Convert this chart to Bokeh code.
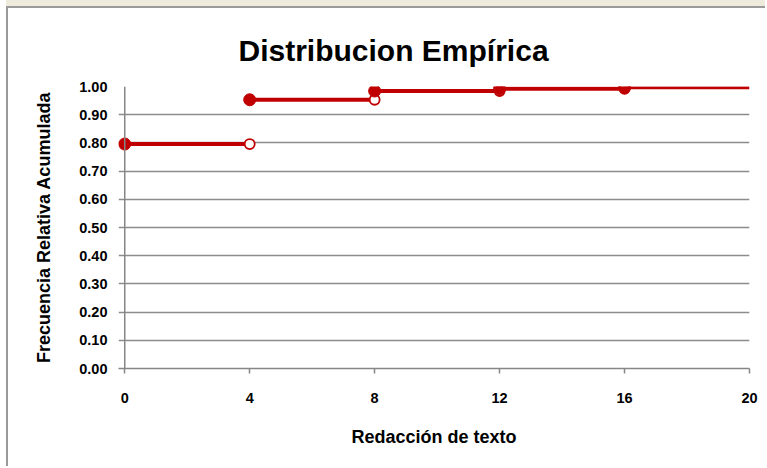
from bokeh.plotting import figure
from bokeh.models import Range1d, FixedTicker, NumeralTickFormatter, Span
from bokeh.embed import file_html
from bokeh.resources import INLINE

# ---- data ----
x_values = [0, 4, 8, 12, 16]
cum_freq = [0.796, 0.953, 0.984, 0.992, 0.996]
x_max = 20
x_ticks = [0, 4, 8, 12, 16, 20]
y_ticks = [0.0, 0.1, 0.2, 0.3, 0.4, 0.5, 0.6, 0.7, 0.8, 0.9, 1.0]
title_text = "Distribucion Empírica"
x_label = "Redacción de texto"
y_label = "Frecuencia Relativa Acumulada"

RED = "#C00000"
AXIS_GREY = "#868686"
FONT = "Liberation Sans"

# small negative start so the marker at x=0 is not cut; the value axis line is drawn at x=0
p = figure(width=759, height=460, output_backend="svg", toolbar_location=None,
           x_range=Range1d(-0.2, x_max), y_range=Range1d(0, 1.0),
           min_border_left=110, min_border_right=18, min_border_top=78, min_border_bottom=100)
p.outline_line_color = None
p.background_fill_color = "white"
p.border_fill_color = "white"

# title
p.title.text = title_text
p.title.text_font = FONT
p.title.text_font_size = "30px"
p.title.text_font_style = "bold"
p.title.align = "left"
p.title.offset = 120
p.title.standoff = 39
p.title.text_color = "black"

# grid
p.xgrid.grid_line_color = None
p.ygrid.ticker = FixedTicker(ticks=y_ticks)
p.ygrid.grid_line_color = "#8c8c8c"
p.ygrid.grid_line_width = 1.5

for ax in (p.xaxis[0], p.yaxis[0]):
    ax.axis_line_color = AXIS_GREY
    ax.axis_line_width = 1.5
    ax.major_tick_line_color = AXIS_GREY
    ax.major_tick_line_width = 1.5
    ax.major_tick_in = 0
    ax.major_tick_out = 5
    ax.minor_tick_line_color = None
    ax.major_label_text_font = FONT
    ax.major_label_text_font_style = "bold"
    ax.major_label_text_font_size = "14.5px"
    ax.major_label_text_color = "black"
    ax.axis_label_text_font = FONT
    ax.axis_label_text_font_style = "bold"
    ax.axis_label_text_font_size = "18px"
    ax.axis_label_text_color = "black"

# y axis: line and ticks come from the span at x=0 and the gridline stubs
p.yaxis.axis_line_color = None
p.yaxis.major_tick_line_color = None
p.yaxis.major_tick_out = 0
p.xaxis.ticker = FixedTicker(ticks=x_ticks)
p.yaxis.ticker = FixedTicker(ticks=y_ticks)
p.yaxis.formatter = NumeralTickFormatter(format="0.00")
p.xaxis.axis_label = x_label
p.yaxis.axis_label = y_label
p.xaxis.major_label_standoff = 19
p.yaxis.major_label_standoff = 11
p.xaxis.axis_label_standoff = 21
p.yaxis.axis_label_standoff = 22

p.add_layout(Span(location=0, dimension="height", line_color=AXIS_GREY, line_width=1.5))

# step segments
x0 = x_values
x1 = x_values[1:] + [x_max]
widths = [4] * (len(x_values) - 1) + [3]
for a, b, yv, w in zip(x0, x1, cum_freq, widths):
    p.segment(x0=[a], y0=[yv], x1=[b], y1=[yv], line_color=RED, line_width=w)

# open circles at right ends (excluding last)
p.scatter(x=x_values[1:], y=cum_freq[:-1], size=10, fill_color="white",
          line_color=RED, line_width=1.8)
# filled circles
p.scatter(x=x_values, y=cum_freq, size=12, fill_color=RED, line_color=RED)

p.styles = {"border-left": "2px solid #9a9a9a", "border-top": "2px solid #9a9a9a",
            "margin-left": "6px", "margin-top": "6px",
            "box-shadow": "0px -6px 0px 0px #EEEBDC"}

open("out.html", "w").write(file_html(p, INLINE))
